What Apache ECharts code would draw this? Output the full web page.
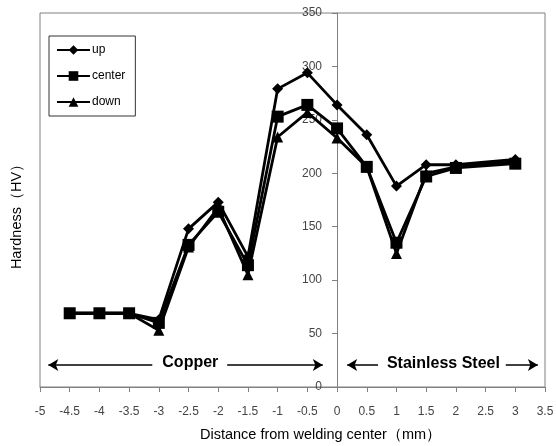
<!DOCTYPE html>
<html lang="en">
<head>
    <meta charset="UTF-8">
    <title>Hardness profile</title>
    <script src="https://cdn.jsdelivr.net/npm/echarts@6/dist/echarts.min.js"></script>
    <style>
        html, body { margin: 0; padding: 0; background: #fff; }
        #chart { width: 556px; height: 446px; }
    </style>
</head>
<body>
    <div id="chart"></div>

    <script>
        // positions across the weld (mm)
        var distance = [-4.5, -4, -3.5, -3, -2.5, -2, -1.5, -1, -0.5, 0, 0.5, 1, 1.5, 2, 3];

        // hardness readings (HV)
        var up     = [69, 69, 69, 63, 148, 173, 122, 279, 294, 264, 236, 188, 208, 208, 213];
        var center = [69, 69, 69, 60, 133, 164, 114, 253, 264, 242, 206, 135, 197, 205, 209];
        var down   = [69, 69, 69, 53, 131, 168, 105, 234, 257, 233, 206, 125, 200, 206, 211];

        var regionNames = ['Copper', 'Stainless Steel'];

        function pairs(ys) {
            return distance.map(function (x, i) { return [x, ys[i]]; });
        }

        var chart = echarts.init(document.getElementById('chart'));

        var lineStyle = { color: '#000', width: 2.8 };
        var arrowY = 20.5;

        var option = {
            animation: false,
            textStyle: { fontFamily: 'Liberation Sans, Arial, sans-serif' },
            grid: {
                left: 40, right: 11, top: 13, bottom: 59,
                containLabel: false,
                outerBoundsMode: 'none',
                show: true, borderColor: '#808080', borderWidth: 1
            },
            legend: {
                orient: 'vertical',
                left: 49, top: 36,
                padding: [8, 10, 8, 7],
                itemGap: 14,
                itemWidth: 33,
                itemHeight: 12,
                borderColor: '#333',
                borderWidth: 1,
                textStyle: { color: '#000', fontSize: 12, padding: [0, 0, 0, -3] },
                data: ['up', 'center', 'down']
            },
            xAxis: {
                type: 'value',
                min: -5, max: 3.5, interval: 0.5,
                name: 'Distance from welding center（mm）',
                nameLocation: 'middle',
                nameGap: 40,
                nameTextStyle: { color: '#000', fontSize: 14.5, padding: [0, 0, 0, 56] },
                splitLine: { show: false },
                axisLine: { lineStyle: { color: '#808080' } },
                axisTick: { length: 5, lineStyle: { color: '#808080' } },
                axisLabel: { color: '#444', fontSize: 12, margin: 19 }
            },
            yAxis: {
                type: 'value',
                min: 0, max: 350, interval: 50,
                // axis drawn at x = 0 of the distance scale
                offset: -297,
                name: 'Hardness（HV）',
                nameLocation: 'middle',
                nameGap: 313,
                nameTextStyle: { color: '#000', fontSize: 14.5, padding: [0, 26, 0, 0] },
                splitLine: { show: false },
                axisLine: { onZero: false, lineStyle: { color: '#808080' } },
                axisTick: { length: 5, lineStyle: { color: '#808080' } },
                axisLabel: { color: '#444', fontSize: 12, margin: 15 }
            },
            series: [
                {
                    name: 'up', type: 'line', data: pairs(up),
                    symbol: 'diamond', symbolSize: 11,
                    lineStyle: lineStyle, itemStyle: { color: '#000' }, z: 4
                },
                {
                    name: 'center', type: 'line', data: pairs(center),
                    symbol: 'rect', symbolSize: 12,
                    lineStyle: lineStyle, itemStyle: { color: '#000' }, z: 3
                },
                {
                    name: 'down', type: 'line', data: pairs(down),
                    symbol: 'triangle', symbolSize: 11,
                    lineStyle: lineStyle, itemStyle: { color: '#000' }, z: 2
                },
                {
                    // region annotations
                    name: 'regions', type: 'line', data: [], silent: true,
                    markLine: {
                        silent: true,
                        symbol: ['none', 'arrow'],
                        symbolSize: [9, 10],
                        label: { show: false },
                        lineStyle: { color: '#000', width: 1.5, type: 'solid' },
                        data: [
                            [{ coord: [-3.11, arrowY] }, { coord: [-4.86, arrowY] }],
                            [{ coord: [-1.85, arrowY] }, { coord: [-0.24, arrowY] }],
                            [{ coord: [0.69, arrowY] }, { coord: [0.17, arrowY] }],
                            [{ coord: [2.84, arrowY] }, { coord: [3.38, arrowY] }]
                        ]
                    },
                    markPoint: {
                        silent: true,
                        symbol: 'circle',
                        symbolSize: 0,
                        label: {
                            show: true,
                            position: 'inside',
                            formatter: '{b}',
                            color: '#000',
                            fontSize: 16,
                            fontWeight: 'bold'
                        },
                        data: [
                            { name: regionNames[0], coord: [-2.47, 23] },
                            { name: regionNames[1], coord: [1.79, 21.5] }
                        ]
                    }
                }
            ]
        };

        chart.setOption(option);
    </script>
</body>
</html>
